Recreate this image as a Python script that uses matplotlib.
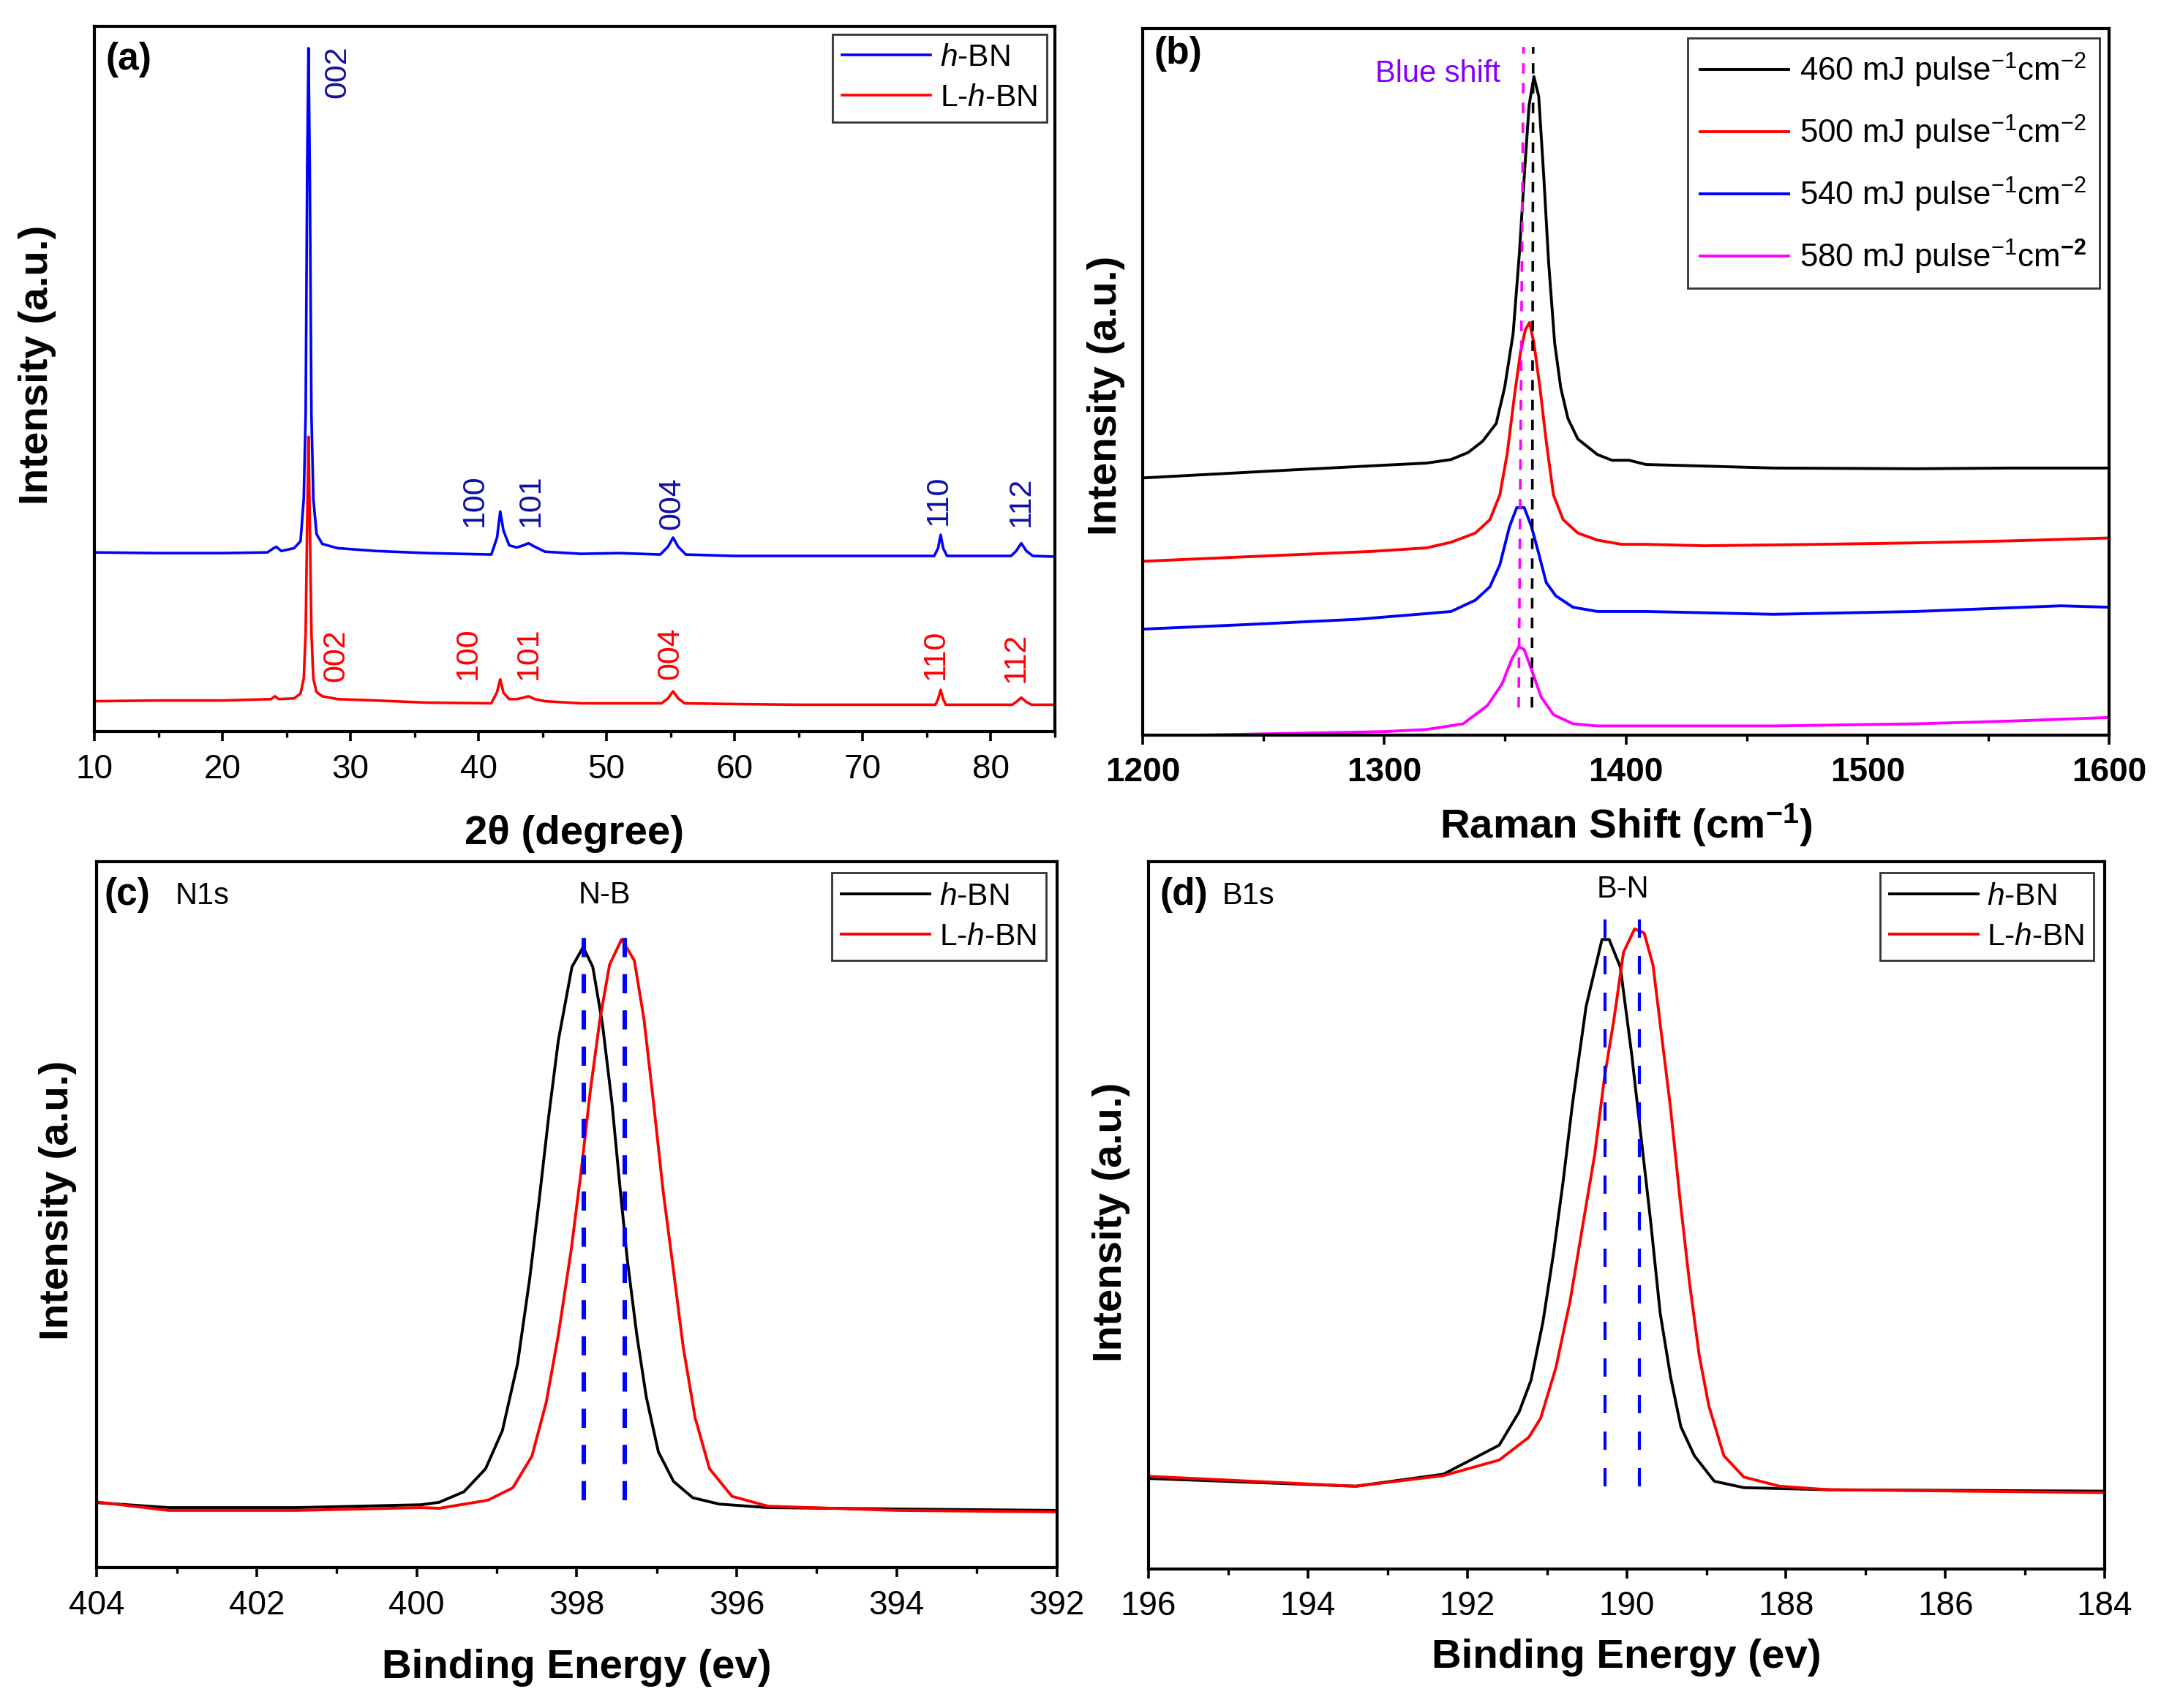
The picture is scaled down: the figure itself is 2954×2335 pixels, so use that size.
import matplotlib
matplotlib.use('Agg')
import matplotlib.pyplot as plt
from matplotlib.ticker import MultipleLocator

plt.rcParams['font.family'] = ['Liberation Sans', 'DejaVu Sans']
plt.rcParams['mathtext.fontset'] = 'custom'
plt.rcParams['mathtext.rm'] = 'Liberation Sans'
plt.rcParams['mathtext.it'] = 'Liberation Sans:italic'
plt.rcParams['mathtext.bf'] = 'Liberation Sans:bold'
plt.rcParams['mathtext.default'] = 'regular'

# ---- (a) XRD ----
xrd_x_hbn = [10, 15, 20, 23.5, 24.0, 24.2, 24.6, 25.6, 26.1, 26.35, 26.5, 26.62, 26.72, 26.82, 26.95, 27.1, 27.35, 27.8,
             29, 32, 36, 41.0, 41.45, 41.7, 41.95, 42.4, 43.0, 43.5, 43.9, 44.4, 45.2, 48, 51,
             54.2, 54.8, 55.2, 55.6, 56.2, 60, 65, 70, 75.6, 75.9, 76.1, 76.3, 76.6, 80, 81.6, 82.0, 82.4, 82.8, 83.3, 85]
xrd_y_hbn = [25.4, 25.3, 25.3, 25.4, 26.0, 26.2, 25.6, 26.0, 27.0, 33.0, 45, 80, 96.9, 80, 45, 33, 28.0, 26.6,
             26.0, 25.6, 25.3, 25.1, 27.5, 31.2, 28.5, 26.4, 26.1, 26.4, 26.7, 26.2, 25.5, 25.2, 25.3,
             25.1, 26.2, 27.5, 26.2, 25.1, 24.9, 24.9, 24.9, 24.9, 26.0, 27.9, 26.0, 24.9, 24.9, 24.9, 25.6, 26.7, 25.6, 24.9, 24.8]
xrd_x_lhbn = [10, 15, 20, 23.8, 24.1, 24.4, 25.6, 26.1, 26.35, 26.5, 26.62, 26.72, 26.82, 26.95, 27.1, 27.35, 27.8,
              29, 32, 36, 41.0, 41.45, 41.7, 41.95, 42.4, 43.0, 43.5, 43.9, 44.4, 45.2, 48, 51,
              54.3, 54.8, 55.2, 55.6, 56.1, 60, 65, 70, 75.7, 75.9, 76.1, 76.3, 76.5, 80, 81.7, 82.0, 82.4, 82.8, 83.2, 85]
xrd_y_lhbn = [4.3, 4.4, 4.4, 4.6, 5.0, 4.6, 4.7, 5.4, 7.5, 14, 30, 41.8, 30, 14, 7.5, 5.6, 5.0,
              4.6, 4.4, 4.1, 4.0, 5.6, 7.4, 5.5, 4.6, 4.6, 4.8, 5.0, 4.6, 4.3, 4.0, 4.0,
              4.0, 4.7, 5.7, 4.7, 4.0, 3.9, 3.8, 3.8, 3.8, 4.6, 5.9, 4.6, 3.8, 3.8, 3.8, 4.2, 4.8, 4.2, 3.8, 3.8]
hkl = ['002', '100', '101', '004', '110', '112']
hkl_x_hbn = [29.0, 39.7, 44.1, 55.1, 75.9, 82.4]
hkl_y_hbn = [89.8, 29.0, 29.0, 28.6, 29.3, 29.0]
hkl_x_lhbn = [28.9, 39.2, 43.9, 55.0, 75.7, 82.0]
hkl_y_lhbn = [7.1, 7.4, 7.4, 7.4, 7.4, 7.0]

# ---- (b) Raman ----
raman_labels = [r'460 mJ pulse$^{-1}$cm$^{-2}$', r'500 mJ pulse$^{-1}$cm$^{-2}$',
                r'540 mJ pulse$^{-1}$cm$^{-2}$', r'580 mJ pulse$^{-1}$cm$^{\mathbf{-2}}$']
raman_colors = ['black', '#ff0000', '#0000ff', '#ff00ff']
raman_x = [
    [1200, 1260, 1300, 1317.5, 1327.6, 1334.7, 1340.7, 1346.3, 1349.8, 1353.3, 1355.9, 1357.9, 1359.9, 1361.9,
     1363.9, 1366.0, 1368.0, 1370.5, 1373.0, 1376.0, 1380.1, 1388.2, 1394.2, 1401.3, 1408.3,
     1430, 1461, 1520, 1560, 1600],
    [1200, 1240, 1294.7, 1317.5, 1327.6, 1337.7, 1343.7, 1347.8, 1350.8, 1353.8, 1356.4, 1358.4, 1360.1, 1361.9,
     1364.4, 1367.0, 1370.0, 1374.0, 1380.1, 1388.2, 1398.2, 1408.3, 1432.4, 1480, 1518.4, 1560, 1600],
    [1200, 1240, 1289, 1317.5, 1327.6, 1337.7, 1343.7, 1347.8, 1351.8, 1354.8, 1357.9, 1360.9, 1363.9, 1367.0,
     1371.0, 1378.1, 1388.2, 1398.2, 1408.3, 1461, 1520, 1580, 1600],
    [1200, 1223, 1269, 1300, 1317.5, 1332.6, 1342.7, 1348.8, 1352.8, 1355.7, 1357.9, 1360.9, 1364.9, 1370.0,
     1378.1, 1388.2, 1408.3, 1461, 1520, 1560, 1600],
]
raman_y = [
    [36.4, 37.5, 38.2, 38.5, 39.0, 40.0, 41.6, 44.1, 49.2, 56.8, 68.2, 79.0, 89.1, 93.2,
     90.4, 79.0, 66.9, 55.5, 49.2, 44.8, 41.9, 39.7, 38.9, 38.9, 38.3,
     38.1, 37.8, 37.7, 37.8, 37.8],
    [24.6, 25.2, 26.0, 26.5, 27.3, 28.6, 30.5, 34.0, 39.7, 47.9, 54.3, 57.4, 58.4, 55.5,
     49.2, 41.6, 34.0, 30.5, 28.6, 27.6, 27.0, 27.0, 26.8, 27.0, 27.2, 27.5, 27.9],
    [15.0, 15.6, 16.4, 17.2, 17.5, 19.1, 21.0, 24.1, 29.5, 32.2, 32.2, 29.5, 25.7, 21.6,
     19.7, 18.1, 17.5, 17.5, 17.5, 17.1, 17.5, 18.3, 18.1],
    [-1.5, 0, 0.3, 0.5, 0.8, 1.6, 4.2, 7.3, 10.8, 12.5, 12.1, 9.3, 5.4, 2.9,
     1.6, 1.3, 1.3, 1.3, 1.6, 2.0, 2.5],
]
raman_guide_x = [[1361.1, 1361.6], [1355.6, 1357.6]]
raman_guide_y = [3.9, 97.4]

# ---- (c) N1s ----
n1s_x_hbn = [404, 403.1, 401.5, 399.95, 399.72, 399.41, 399.14, 398.93, 398.74, 398.59, 398.47, 398.35, 398.23,
             398.06, 397.92, 397.80, 397.68, 397.56, 397.46, 397.37, 397.25, 397.13, 396.98, 396.79, 396.55,
             396.22, 395.61, 394, 392]
n1s_y_hbn = [9.2, 8.5, 8.5, 8.9, 9.25, 10.75, 14.0, 19.4, 28.9, 40.8, 52.1, 64.0, 74.7,
             85.1, 87.9, 85.1, 77.1, 65.8, 53.9, 43.8, 33.0, 24.1, 16.4, 12.2, 9.9,
             9.0, 8.5, 8.3, 8.1]
n1s_x_lhbn = [404, 403.1, 401.5, 399.95, 399.72, 399.11, 398.80, 398.56, 398.38, 398.23, 398.07, 397.95, 397.83,
              397.71, 397.59, 397.44, 397.28, 397.16, 397.04, 396.92, 396.79, 396.67, 396.52, 396.34, 396.06,
              395.61, 394, 392]
n1s_y_lhbn = [9.3, 8.1, 8.1, 8.5, 8.4, 9.55, 11.3, 15.8, 23.5, 33.0, 45.0, 55.7, 67.6,
              77.7, 85.4, 89.0, 86.0, 77.7, 65.8, 53.3, 42.0, 31.3, 21.2, 14.0, 10.1,
              8.7, 8.1, 7.9]
n1s_guides = [397.91, 397.40]
n1s_guide_y = [9.55, 90.8]

# ---- (d) B1s ----
b1s_x_hbn = [196, 193.4, 192.3, 191.6, 191.35, 191.2, 191.05, 190.92, 190.80, 190.68, 190.51, 190.31, 190.22,
             190.08, 189.94, 189.82, 189.70, 189.58, 189.45, 189.32, 189.15, 188.90, 188.53, 187.46, 184]
b1s_y_hbn = [12.8, 11.7, 13.4, 17.5, 22.2, 26.7, 35.0, 44.5, 54.6, 65.8, 79.5, 89.0, 89.0,
             85.1, 73.0, 61.1, 49.2, 36.2, 27.2, 20.1, 16.0, 12.4, 11.5, 11.2, 11.0]
b1s_x_lhbn = [196, 193.4, 192.3, 191.6, 191.23, 191.08, 190.89, 190.71, 190.56, 190.40, 190.28, 190.16, 190.04,
              189.90, 189.78, 189.67, 189.58, 189.45, 189.33, 189.21, 189.09, 188.97, 188.78, 188.53, 188.08,
              187.46, 184]
b1s_y_lhbn = [13.1, 11.7, 13.2, 15.4, 18.6, 21.3, 28.4, 37.9, 48.0, 58.7, 69.4, 77.7, 87.2,
              90.5, 89.9, 85.4, 77.1, 65.2, 52.2, 40.3, 30.2, 23.1, 16.0, 13.0, 11.7,
              11.2, 10.8]
b1s_guides = [190.27, 189.84]
b1s_guide_y = [11.7, 94.0]

fig = plt.figure(figsize=(14.77, 11.675), dpi=200)
ax_a = fig.add_axes([0.0437, 0.5717, 0.4443, 0.4129])
ax_b = fig.add_axes([0.5288, 0.5696, 0.4472, 0.4137])
ax_c = fig.add_axes([0.0448, 0.0822, 0.4442, 0.4133])
ax_d = fig.add_axes([0.5315, 0.0814, 0.4425, 0.4141])

tick_fs = 16.5
lab_fs = 20.3
leg_fs = 15.3
tag_fs = 18.5

for ax in (ax_a, ax_b, ax_c, ax_d):
    for s in ax.spines.values():
        s.set_linewidth(1.5)
    ax.tick_params(axis='x', which='major', direction='out', length=4.6, width=1.3, pad=6,
                   labelsize=tick_fs, top=False)
    ax.tick_params(axis='x', which='minor', direction='out', length=2.8, width=1.2, top=False)
    ax.tick_params(axis='y', which='both', left=False, right=False, labelleft=False)
    ax.set_ylim(0, 100)

# (a)
ax_a.plot(xrd_x_hbn, xrd_y_hbn, color='#0000ff', lw=1.3, label=r'$\mathit{h}$-BN')
ax_a.plot(xrd_x_lhbn, xrd_y_lhbn, color='#ff0000', lw=1.3, label=r'L-$\mathit{h}$-BN')
for t, x, y in zip(hkl, hkl_x_hbn, hkl_y_hbn):
    ax_a.text(x, y, t, rotation=90, ha='center', va='bottom', color='#1010a6', fontsize=15.5)
for t, x, y in zip(hkl, hkl_x_lhbn, hkl_y_lhbn):
    ax_a.text(x, y, t, rotation=90, ha='center', va='bottom', color='#ff0000', fontsize=15.5)
ax_a.set_xlim(10, 85)
ax_a.xaxis.set_major_locator(MultipleLocator(10))
ax_a.xaxis.set_minor_locator(MultipleLocator(5))
ax_a.set_xlabel('2θ (degree)', fontsize=lab_fs, fontweight='bold')
ax_a.set_ylabel('Intensity (a.u.)', fontsize=lab_fs, fontweight='bold')
ax_a.xaxis.set_label_coords(0.5, -0.118)
ax_a.yaxis.set_label_coords(-0.040, 0.52)
ax_a.text(0.012, 0.978, '(a)', transform=ax_a.transAxes, fontsize=tag_fs, fontweight='bold', va='top')
leg = ax_a.legend(loc='upper right', fontsize=leg_fs, frameon=True, fancybox=False, edgecolor='black',
                  handlelength=2.85, handletextpad=0.3, labelspacing=0.35, borderaxespad=0.25,
                  borderpad=0.3)
leg.get_frame().set_linewidth(1.0)

# (b)
for xs, ys, c, lab in zip(raman_x, raman_y, raman_colors, raman_labels):
    ax_b.plot(xs, ys, color=c, lw=1.4, label=lab)
ax_b.plot(raman_guide_x[0], raman_guide_y, color='black', lw=1.3, dashes=(4, 3.5))
ax_b.plot(raman_guide_x[1], raman_guide_y, color='#ff00ff', lw=1.3, dashes=(4, 3.5))
ax_b.text(1348, 93.6, 'Blue shift', color='#8000ff', fontsize=15, ha='right', va='center')
ax_b.set_xlim(1200, 1600)
ax_b.xaxis.set_major_locator(MultipleLocator(100))
ax_b.xaxis.set_minor_locator(MultipleLocator(50))
for lbl in ax_b.get_xticklabels():
    lbl.set_fontweight('bold')
ax_b.set_xlabel(r'Raman Shift (cm$^{\mathbf{-1}}$)', fontsize=lab_fs, fontweight='bold')
ax_b.set_ylabel('Intensity (a.u.)', fontsize=lab_fs, fontweight='bold')
ax_b.xaxis.set_label_coords(0.5, -0.095)
ax_b.yaxis.set_label_coords(-0.018, 0.48)
ax_b.text(0.012, 0.99, '(b)', transform=ax_b.transAxes, fontsize=tag_fs, fontweight='bold', va='top')
leg = ax_b.legend(loc='upper right', fontsize=15.8, frameon=True, fancybox=False, edgecolor='black',
                  handlelength=2.75, handletextpad=0.35, labelspacing=0.75, borderaxespad=0.3,
                  borderpad=0.4)
leg.get_frame().set_linewidth(1.0)

# (c)
ax_c.plot(n1s_x_hbn, n1s_y_hbn, color='black', lw=1.4, label=r'$\mathit{h}$-BN')
ax_c.plot(n1s_x_lhbn, n1s_y_lhbn, color='#ff0000', lw=1.4, label=r'L-$\mathit{h}$-BN')
for gx in n1s_guides:
    ax_c.plot([gx, gx], n1s_guide_y, color='#0000ff', lw=2.2, dashes=(4.3, 3.8))
ax_c.text(397.65, 95.2, 'N-B', fontsize=15, ha='center', va='center')
ax_c.set_xlim(404, 392)
ax_c.xaxis.set_major_locator(MultipleLocator(2))
ax_c.xaxis.set_minor_locator(MultipleLocator(1))
ax_c.set_xlabel('Binding Energy (ev)', fontsize=lab_fs, fontweight='bold')
ax_c.set_ylabel('Intensity (a.u.)', fontsize=lab_fs, fontweight='bold')
ax_c.xaxis.set_label_coords(0.5, -0.115)
ax_c.yaxis.set_label_coords(-0.021, 0.52)
ax_c.text(0.008, 0.978, '(c)', transform=ax_c.transAxes, fontsize=tag_fs, fontweight='bold', va='top')
ax_c.text(0.082, 0.972, 'N1s', transform=ax_c.transAxes, fontsize=15, va='top')
leg = ax_c.legend(loc='upper right', fontsize=leg_fs, frameon=True, fancybox=False, edgecolor='black',
                  handlelength=2.85, handletextpad=0.3, labelspacing=0.35, borderaxespad=0.35,
                  borderpad=0.3)
leg.get_frame().set_linewidth(1.0)

# (d)
ax_d.plot(b1s_x_hbn, b1s_y_hbn, color='black', lw=1.4, label=r'$\mathit{h}$-BN')
ax_d.plot(b1s_x_lhbn, b1s_y_lhbn, color='#ff0000', lw=1.4, label=r'L-$\mathit{h}$-BN')
for gx in b1s_guides:
    ax_d.plot([gx, gx], b1s_guide_y, color='#0000ff', lw=1.5, dashes=(6, 6))
ax_d.text(190.05, 96.1, 'B-N', fontsize=15, ha='center', va='center')
ax_d.set_xlim(196, 184)
ax_d.xaxis.set_major_locator(MultipleLocator(2))
ax_d.xaxis.set_minor_locator(MultipleLocator(1))
ax_d.set_xlabel('Binding Energy (ev)', fontsize=lab_fs, fontweight='bold')
ax_d.set_ylabel('Intensity (a.u.)', fontsize=lab_fs, fontweight='bold')
ax_d.xaxis.set_label_coords(0.5, -0.098)
ax_d.yaxis.set_label_coords(-0.019, 0.49)
ax_d.text(0.012, 0.978, '(d)', transform=ax_d.transAxes, fontsize=tag_fs, fontweight='bold', va='top')
ax_d.text(0.077, 0.972, 'B1s', transform=ax_d.transAxes, fontsize=15, va='top')
leg = ax_d.legend(loc='upper right', fontsize=leg_fs, frameon=True, fancybox=False, edgecolor='black',
                  handlelength=2.85, handletextpad=0.3, labelspacing=0.35, borderaxespad=0.35,
                  borderpad=0.3)
leg.get_frame().set_linewidth(1.0)

fig.savefig('out.png', dpi=200)
